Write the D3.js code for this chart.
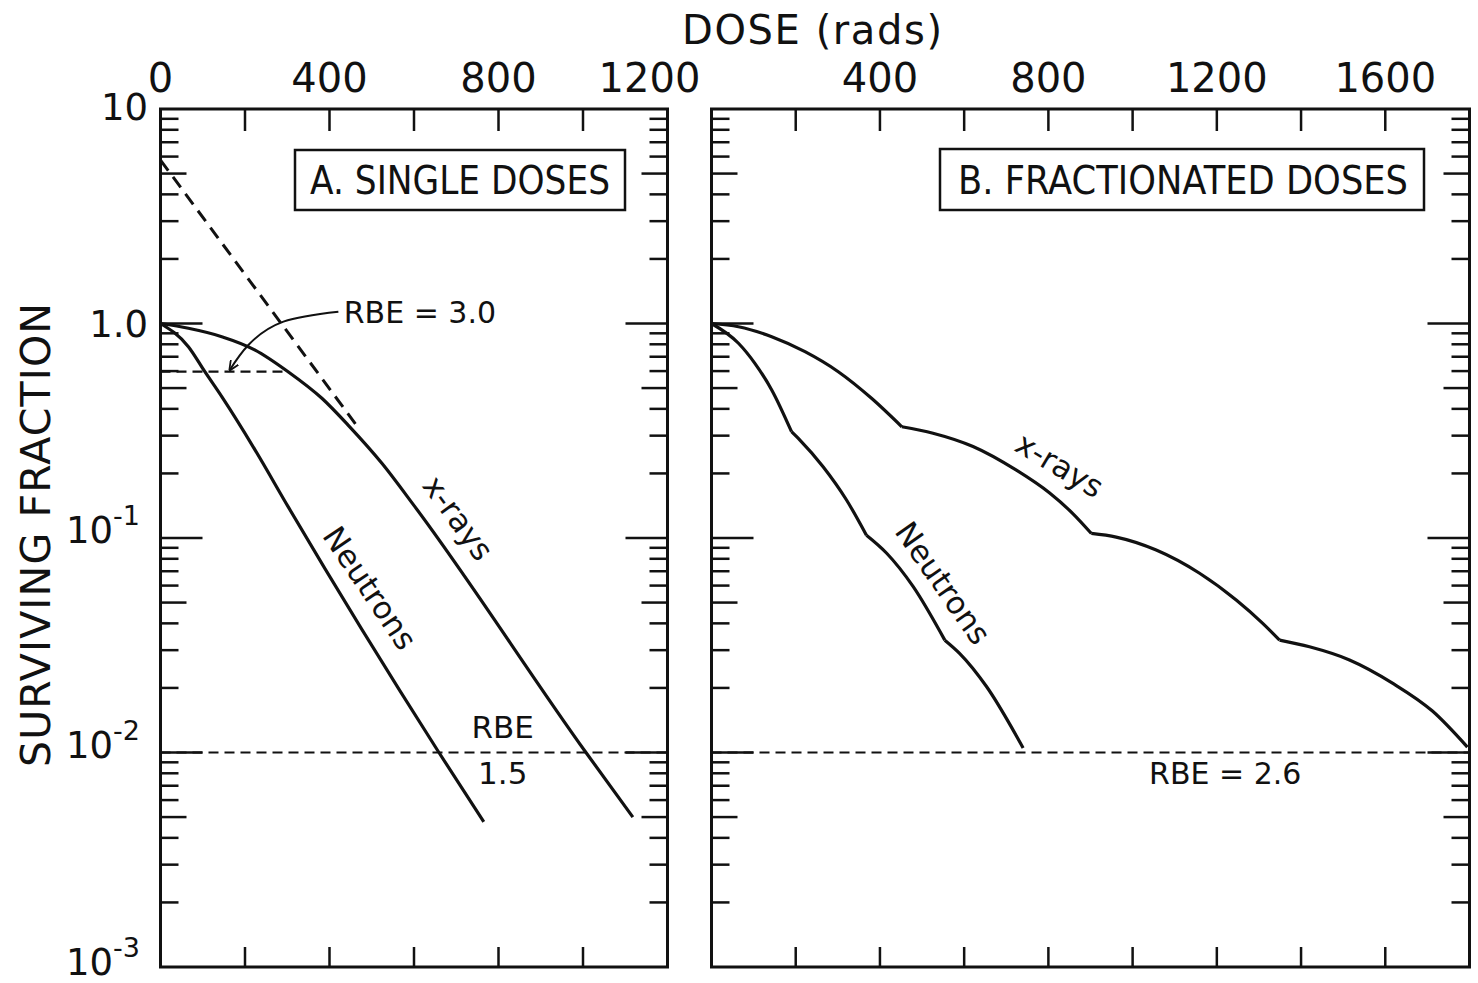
<!DOCTYPE html>
<html>
<head>
<meta charset="utf-8">
<script src="https://cdn.jsdelivr.net/npm/d3@7"></script>
<style>
  body { margin: 0; background: #fff; }
  text { font-family: "DejaVu Sans", sans-serif; fill: #111; }
</style>
</head>
<body>
<div id="gr"></div>
<script>
// ---- values (dose in rads, surviving fraction) ----
var singleXray = [[0, 1], [66, 0.950], [145, 0.868], [224, 0.752], [302, 0.596], [382, 0.448],
  [444, 0.336], [524, 0.223], [602, 0.140], [1007, 0.01], [1118, 0.005]];
var singleNeutron = [[0, 1], [66, 0.780], [105, 0.596], [145, 0.456], [224, 0.257], [302, 0.140],
  [659, 0.01], [765, 0.00475]];
var extrapolation = [[0, 5.78], [472, 0.319]];
var rbe3Level = [[0, 0.596], [302, 0.596]];
var rbe3Arrow = [[421, 1.135], [291, 1.02], [208, 0.794], [164, 0.607]];

var fracXray = [
  [[0, 1], [64, 0.966], [143, 0.868], [222, 0.739], [301, 0.596], [380, 0.448], [452, 0.330]],
  [[452, 0.330], [526, 0.308], [621, 0.267], [724, 0.207], [803, 0.162], [858, 0.130], [902, 0.105]],
  [[902, 0.105], [961, 0.101], [1056, 0.0879], [1159, 0.0685], [1246, 0.0514], [1309, 0.0400], [1349, 0.0334]],
  [[1349, 0.0334], [1420, 0.0311], [1515, 0.0270], [1618, 0.0210], [1712, 0.0156], [1795, 0.0106]]
];
var fracNeutron = [
  [[0, 1], [64, 0.809], [103, 0.652], [143, 0.490], [190, 0.313]],
  [[190, 0.313], [210, 0.286], [265, 0.215], [321, 0.150], [368, 0.103]],
  [[368, 0.103], [416, 0.0849], [479, 0.0593], [554, 0.0334]],
  [[554, 0.0334], [589, 0.0290], [653, 0.0203], [740, 0.0105]]
];

var leftTickLabels = [0, 400, 800, 1200];
var rightTickLabels = [400, 800, 1200, 1600];
var yTickLabels = [
  { v: 10, base: "10", sup: "" },
  { v: 1, base: "1.0", sup: "" },
  { v: 0.1, base: "10", sup: "-1" },
  { v: 0.01, base: "10", sup: "-2" },
  { v: 0.001, base: "10", sup: "-3" }
];
var cutoff = 0.01;

var width = 1478, height = 983;

var svg = d3.select("#gr").append("svg")
  .attr("width", width)
  .attr("height", height);

var defs = svg.append("defs");
defs.append("marker")
  .attr("id", "arrow")
  .attr("viewBox", "0 0 10 10")
  .attr("refX", 9).attr("refY", 5)
  .attr("markerWidth", 10).attr("markerHeight", 10)
  .attr("markerUnits", "userSpaceOnUse")
  .attr("orient", "auto")
  .append("path")
  .attr("d", "M0,0.5 L10,5 L0,9.5")
  .attr("fill", "none")
  .attr("stroke", "#111")
  .attr("stroke-width", 1.8);

var yScale = d3.scaleLog().domain([10, 0.001]).range([109, 967]);
var xLeft = d3.scaleLinear().domain([0, 1200]).range([160.5, 667.5]);
var xRight = d3.scaleLinear().domain([0, 1800]).range([711.5, 1469.5]);

// minor tick values for the log axis
var yTicks = [];
[-3, -2, -1, 0].forEach(function (e) {
  for (var m = 1; m <= 9; m++) yTicks.push({ v: m * Math.pow(10, e), m: m });
});

function tickLen(m) { return m == 1 ? 42 : (m == 5 ? 26 : 18); }

function drawPanel(x) {
  var g = svg.append("g");
  var x0 = x.range()[0], x1 = x.range()[1];
  var y0 = yScale.range()[0], y1 = yScale.range()[1];

  g.append("rect")
    .attr("x", x0).attr("y", y0)
    .attr("width", x1 - x0).attr("height", y1 - y0)
    .attr("fill", "none").attr("stroke", "#111").attr("stroke-width", 3);

  var xt = d3.range(200, x.domain()[1], 200);
  g.selectAll(".xt-top").data(xt).enter().append("line")
    .attr("x1", function (d) { return x(d); }).attr("x2", function (d) { return x(d); })
    .attr("y1", y0).attr("y2", y0 + 22)
    .attr("stroke", "#111").attr("stroke-width", 2.5);
  g.selectAll(".xt-bot").data(xt).enter().append("line")
    .attr("x1", function (d) { return x(d); }).attr("x2", function (d) { return x(d); })
    .attr("y1", y1).attr("y2", y1 - 20)
    .attr("stroke", "#111").attr("stroke-width", 2.5);

  var inner = yTicks.filter(function (d) { return d.v > 0.001; });
  g.selectAll(".yt-l").data(inner).enter().append("line")
    .attr("x1", x0).attr("x2", function (d) { return x0 + tickLen(d.m); })
    .attr("y1", function (d) { return yScale(d.v); }).attr("y2", function (d) { return yScale(d.v); })
    .attr("stroke", "#111").attr("stroke-width", 2.5);
  g.selectAll(".yt-r").data(inner).enter().append("line")
    .attr("x1", x1).attr("x2", function (d) { return x1 - tickLen(d.m); })
    .attr("y1", function (d) { return yScale(d.v); }).attr("y2", function (d) { return yScale(d.v); })
    .attr("stroke", "#111").attr("stroke-width", 2.5);

  // 1% survival reference
  g.append("line")
    .attr("x1", x0).attr("x2", x1)
    .attr("y1", yScale(cutoff)).attr("y2", yScale(cutoff))
    .attr("stroke", "#111").attr("stroke-width", 2.2)
    .attr("stroke-dasharray", "10,6");
  return g;
}

var gA = drawPanel(xLeft);
var gB = drawPanel(xRight);

function lineFor(x, curve) {
  return d3.line()
    .x(function (d) { return x(d[0]); })
    .y(function (d) { return yScale(d[1]); })
    .curve(curve || d3.curveMonotoneX);
}

// panel A curves
gA.append("path").datum(singleXray)
  .attr("d", lineFor(xLeft))
  .attr("fill", "none").attr("stroke", "#111").attr("stroke-width", 3.2);
gA.append("path").datum(singleNeutron)
  .attr("d", lineFor(xLeft))
  .attr("fill", "none").attr("stroke", "#111").attr("stroke-width", 3.2);
gA.append("path").datum(extrapolation)
  .attr("d", lineFor(xLeft, d3.curveLinear))
  .attr("fill", "none").attr("stroke", "#111").attr("stroke-width", 3)
  .attr("stroke-dasharray", "13,8");
gA.append("path").datum(rbe3Level)
  .attr("d", lineFor(xLeft, d3.curveLinear))
  .attr("fill", "none").attr("stroke", "#111").attr("stroke-width", 2.3)
  .attr("stroke-dasharray", "10,6");
gA.append("path").datum(rbe3Arrow)
  .attr("d", lineFor(xLeft, d3.curveNatural))
  .attr("fill", "none").attr("stroke", "#111").attr("stroke-width", 2)
  .attr("marker-end", "url(#arrow)");

// panel B curves
fracXray.concat(fracNeutron).forEach(function (seg) {
  gB.append("path").datum(seg)
    .attr("d", lineFor(xRight))
    .attr("fill", "none").attr("stroke", "#111").attr("stroke-width", 3.2)
    .attr("stroke-linejoin", "round");
});

// top axis labels
svg.selectAll(".xl-left").data(leftTickLabels).enter().append("text")
  .attr("x", function (d, i) { return xLeft(d) - (i == leftTickLabels.length - 1 ? 18 : 0); })
  .attr("y", 92)
  .attr("text-anchor", "middle")
  .style("font-size", "40px")
  .text(function (d) { return d; });
svg.selectAll(".xl-right").data(rightTickLabels).enter().append("text")
  .attr("x", function (d) { return xRight(d); })
  .attr("y", 92)
  .attr("text-anchor", "middle")
  .style("font-size", "40px")
  .text(function (d) { return d; });

svg.append("text")
  .attr("x", 812).attr("y", 44)
  .attr("text-anchor", "middle")
  .style("font-size", "40px")
  .attr("textLength", 260)
  .text("DOSE (rads)");

// y labels
yTickLabels.forEach(function (d) {
  var yy = yScale(d.v);
  var t = svg.append("text")
    .attr("text-anchor", "end")
    .style("font-size", "37px");
  if (d.sup == "") {
    t.attr("x", 148).attr("y", (d.v == 10 ? yy - 2 : yy) + 13).text(d.base);
  } else {
    t.attr("x", 140).attr("y", yy + (d.v == 0.001 ? 8 : 5));
    t.append("tspan").text(d.base);
    t.append("tspan").attr("dy", -18).style("font-size", "27px").text(d.sup);
  }
});

svg.append("text")
  .attr("transform", "translate(50,535) rotate(-90)")
  .attr("text-anchor", "middle")
  .style("font-size", "41px")
  .attr("textLength", 464)
  .text("SURVIVING FRACTION");

// panel titles in boxes
svg.append("rect").attr("x", 295).attr("y", 150).attr("width", 330).attr("height", 60)
  .attr("fill", "#fff").attr("stroke", "#111").attr("stroke-width", 2.5);
svg.append("text").attr("x", 460).attr("y", 194).attr("text-anchor", "middle")
  .style("font-size", "39px").attr("textLength", 300).attr("lengthAdjust", "spacingAndGlyphs")
  .text("A. SINGLE DOSES");
svg.append("rect").attr("x", 940).attr("y", 149).attr("width", 484).attr("height", 61)
  .attr("fill", "#fff").attr("stroke", "#111").attr("stroke-width", 2.5);
svg.append("text").attr("x", 1183).attr("y", 194).attr("text-anchor", "middle")
  .style("font-size", "39px").attr("textLength", 450).attr("lengthAdjust", "spacingAndGlyphs")
  .text("B. FRACTIONATED DOSES");

// curve annotations
function note(x, dose, surv, txt, angle, size) {
  svg.append("text")
    .attr("transform", "translate(" + x(dose) + "," + yScale(surv) + ") rotate(" + angle + ")")
    .attr("text-anchor", "middle")
    .attr("dominant-baseline", "central")
    .style("font-size", size + "px")
    .text(txt);
}
note(xLeft, 614, 1.13, "RBE = 3.0", 0, 30);
note(xLeft, 705, 0.124, "x-rays", 54, 31);
note(xLeft, 496, 0.0585, "Neutrons", 56, 31);
note(xLeft, 810, 0.0132, "RBE", 0, 31);
note(xLeft, 810, 0.0080, "1.5", 0, 31);
note(xRight, 827, 0.219, "x-rays", 31, 31);
note(xRight, 550, 0.0617, "Neutrons", 55, 31);
note(xRight, 1220, 0.0080, "RBE = 2.6", 0, 30);
</script>
</body>
</html>
